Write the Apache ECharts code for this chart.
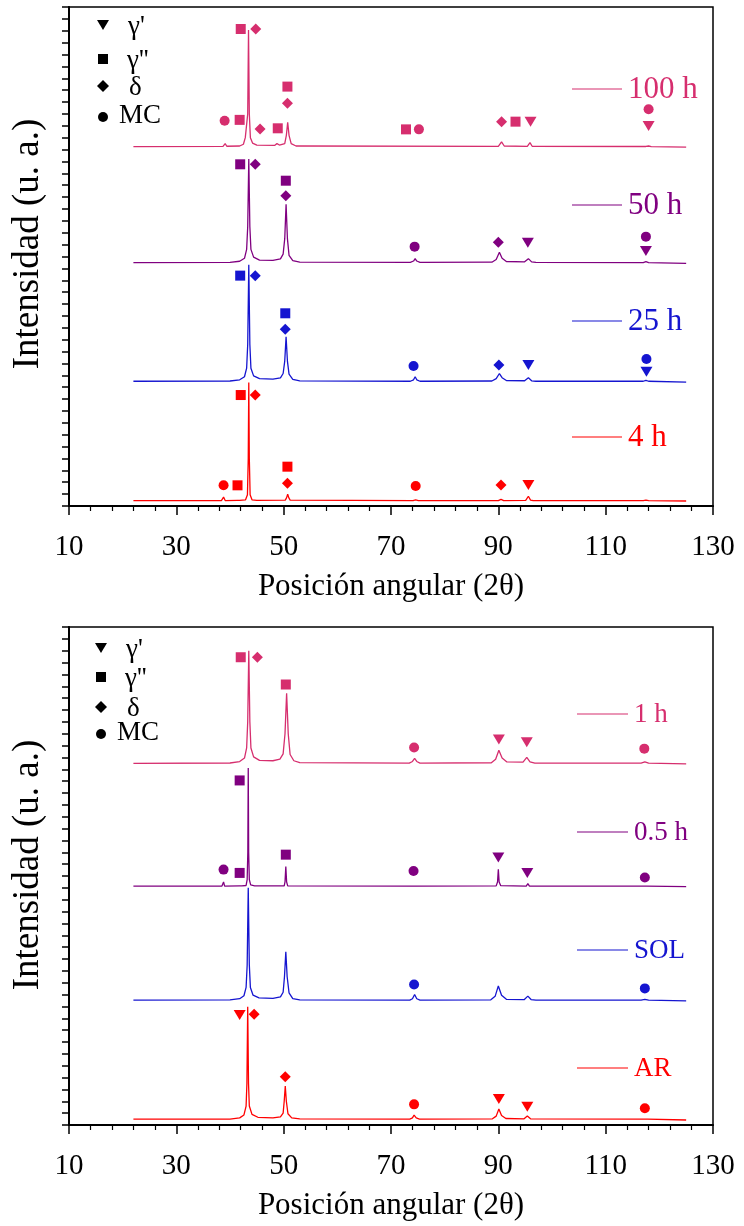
<!DOCTYPE html>
<html><head><meta charset="utf-8">
<script src="https://cdn.jsdelivr.net/npm/echarts@6/dist/echarts.min.js"></script>
<style>html,body{margin:0;padding:0;background:#fff}#c{width:744px;height:1226px}</style>
</head><body><div id="c"></div><script>
// ---------- DATA ----------
const xTickLabels = [10, 30, 50, 70, 90, 110, 130];
const topLabels = ['100 h', '50 h', '25 h', '4 h'];
const botLabels = ['1 h', '0.5 h', 'SOL', 'AR'];
const legendNames = ["γ'", "γ''", 'δ', 'MC'];
const colCrimson = '#d62e6e', colPurple = '#800080', colBlue = '#1515d0', colRed = '#ff0000';

// top panel traces [2θ, intensity (offset units)]
const t100 = [[22,30.25],[38.7,30.27],[39.1,30.5],[39.4,30.28],[41.8,30.3],[42.5,30.45],[42.85,31.0],[43.1,30.9],[43.3,33],[43.45,40.07],[43.6,33],[43.8,31.0],[44.2,30.55],[45,30.38],[48.3,30.35],[48.75,30.5],[49.2,30.38],[50.2,30.5],[50.5,31.2],[50.75,32.3],[51.0,31.2],[51.4,30.5],[52.3,30.3],[90.0,30.27],[90.6,30.65],[91.1,30.3],[95.4,30.27],[95.9,30.58],[96.3,30.28],[117.5,30.26],[118,30.3],[118.5,30.25],[125,30.2]];
const t50 = [[22,20.48],[40,20.5],[41.8,20.6],[42.7,20.85],[43.1,21.6],[43.3,23.5],[43.5,29.2],[43.7,23.5],[43.9,21.6],[44.4,20.95],[45.5,20.7],[48,20.68],[49.4,20.8],[49.9,21.2],[50.2,22.5],[50.45,25.4],[50.7,22.5],[51.0,21.1],[51.7,20.65],[53,20.52],[73.6,20.5],[74.2,20.62],[74.5,20.82],[74.8,20.62],[75.4,20.5],[88.8,20.52],[89.6,20.75],[90.2,21.35],[90.7,20.85],[91.5,20.58],[94.9,20.55],[95.6,20.82],[96.2,20.55],[97,20.5],[117,20.48],[117.5,20.56],[118,20.48],[125,20.42]];
const t25 = [[22,10.5],[40,10.52],[41.8,10.62],[42.7,10.88],[43.1,11.6],[43.3,13.6],[43.5,20.3],[43.7,13.6],[43.9,11.6],[44.4,10.95],[45.5,10.72],[48,10.68],[49.4,10.78],[49.9,11.15],[50.2,12.2],[50.45,14.25],[50.7,12.2],[51.0,11.1],[51.7,10.65],[53,10.53],[73.6,10.5],[74.2,10.62],[74.5,10.88],[74.8,10.62],[75.4,10.5],[88.8,10.52],[89.6,10.72],[90.2,11.15],[90.7,10.8],[91.5,10.56],[94.9,10.54],[95.6,10.8],[96.2,10.54],[97,10.5],[117,10.5],[117.5,10.58],[118,10.5],[125,10.42]];
const t4 = [[22,0.45],[38.4,0.46],[38.8,0.75],[39.1,0.46],[41.4,0.47],[41.6,0.6],[41.8,0.47],[42.9,0.52],[43.25,0.95],[43.4,4],[43.5,10.4],[43.6,4],[43.75,0.95],[44.1,0.52],[45,0.47],[50.3,0.5],[50.55,0.7],[50.75,1.0],[50.95,0.7],[51.2,0.5],[74.1,0.45],[74.6,0.52],[75.1,0.45],[90.0,0.45],[90.5,0.56],[91.0,0.45],[95.1,0.47],[95.6,0.82],[96.0,0.5],[96.5,0.45],[117,0.45],[117.5,0.5],[118,0.45],[125,0.42]];

// bottom panel traces
const b1 = [[22,30.5],[40,30.53],[41.8,30.65],[42.7,30.95],[43.1,31.8],[43.3,34],[43.5,40.0],[43.7,34],[43.9,31.8],[44.4,31.05],[45.5,30.75],[48,30.72],[49.3,30.85],[49.9,31.3],[50.25,33],[50.55,36.4],[50.85,33],[51.2,31.25],[51.9,30.72],[53,30.56],[73.4,30.52],[74.0,30.66],[74.4,30.92],[74.8,30.66],[75.4,30.52],[88.7,30.55],[89.5,30.85],[90.1,31.6],[90.7,30.95],[91.6,30.62],[94.6,30.6],[95.3,31.0],[95.9,30.62],[96.8,30.52],[116.6,30.52],[117.3,30.62],[118,30.52],[125,30.45]];
const b05 = [[22,20.14],[38.5,20.15],[38.8,20.5],[39.0,20.15],[41.8,20.16],[42.0,20.3],[42.2,20.16],[43.0,20.2],[43.2,20.7],[43.32,23],[43.4,30.1],[43.48,23],[43.6,20.7],[43.85,20.25],[44.6,20.17],[50.1,20.17],[50.25,20.5],[50.4,21.8],[50.55,20.5],[50.75,20.17],[74.0,20.15],[74.3,20.25],[74.6,20.15],[89.6,20.17],[89.85,20.5],[90.0,21.57],[90.15,20.5],[90.45,20.18],[95.2,20.15],[95.5,20.35],[95.8,20.15],[117,20.14],[117.3,20.16],[117.6,20.14],[125,20.1]];
const bSOL = [[22,10.53],[40,10.55],[41.8,10.65],[42.6,10.9],[43.0,11.6],[43.2,13.5],[43.4,20.0],[43.6,13.5],[43.8,11.6],[44.3,10.95],[45.4,10.72],[48,10.68],[49.4,10.8],[49.9,11.2],[50.15,12.5],[50.4,14.6],[50.65,12.5],[51.0,11.15],[51.7,10.66],[53,10.55],[73.5,10.53],[74.0,10.65],[74.4,11.0],[74.8,10.65],[75.4,10.53],[88.6,10.56],[89.4,10.85],[90.0,11.73],[90.6,10.95],[91.5,10.6],[94.8,10.57],[95.5,10.87],[96.1,10.58],[97,10.53],[116.6,10.53],[117.3,10.6],[118,10.53],[125,10.47]];
const bAR = [[22,0.5],[40,0.5],[41.8,0.6],[42.6,0.85],[43.0,1.6],[43.15,3.5],[43.3,9.97],[43.45,3.5],[43.6,1.6],[44.1,0.9],[45.2,0.65],[48,0.6],[49.4,0.68],[49.9,1.0],[50.1,2.0],[50.3,3.29],[50.5,2.0],[50.8,0.95],[51.5,0.6],[53,0.52],[73.5,0.5],[74.0,0.6],[74.3,0.84],[74.7,0.6],[75.3,0.5],[88.9,0.52],[89.6,0.75],[90.1,1.35],[90.6,0.8],[91.4,0.55],[94.8,0.52],[95.4,0.76],[96.0,0.52],[117.0,0.5],[117.3,0.56],[117.8,0.5],[125,0.42]];

// phase markers: gp = γ' (▼), gpp = γ'' (■), dl = δ (◆), mc = MC (●)
const m100_gp = [[96.0,32.35],[118,31.99]];
const m100_gpp = [[42.0,40.15],[50.7,35.3],[41.8,32.5],[48.9,31.79],[72.8,31.7],[93.2,32.35]];
const m100_dl = [[44.8,40.15],[50.7,33.9],[45.6,31.73],[90.6,32.35]];
const m100_mc = [[39.0,32.43],[75.2,31.7],[118,33.4]];
const m50_gp = [[95.5,22.16],[117.5,21.46]];
const m50_gpp = [[41.9,28.76],[50.4,27.38]];
const m50_dl = [[44.7,28.76],[50.4,26.12],[90.0,22.2]];
const m50_mc = [[74.4,21.83],[117.5,22.67]];
const m25_gp = [[95.6,11.87],[117.6,11.3]];
const m25_gpp = [[41.9,19.39],[50.3,16.22]];
const m25_dl = [[44.7,19.39],[50.3,14.87],[90.1,11.87]];
const m25_mc = [[74.2,11.78],[117.6,12.37]];
const m4_gp = [[95.6,1.77]];
const m4_gpp = [[42.0,9.34],[41.4,1.74],[50.7,3.31]];
const m4_dl = [[44.7,9.34],[50.7,1.91],[90.5,1.77]];
const m4_mc = [[38.8,1.74],[74.6,1.68]];

const m1_gp = [[90.1,32.52],[95.3,32.29]];
const m1_gpp = [[42.0,39.45],[50.4,37.15]];
const m1_dl = [[45.1,39.45]];
const m1_mc = [[74.3,31.84],[117.2,31.74]];
const m05_gp = [[90.0,22.55],[95.4,21.26]];
const m05_gpp = [[41.8,29.06],[41.8,21.26],[50.4,22.8]];
const m05_mc = [[38.8,21.54],[74.2,21.42],[117.3,20.87]];
const mSOL_mc = [[74.3,11.85],[117.3,11.52]];
const mAR_gp = [[41.8,9.27],[90.1,2.19],[95.4,1.54]];
const mAR_dl = [[44.5,9.33],[50.3,4.07]];
const mAR_mc = [[74.3,1.74],[117.3,1.41]];

// ---------- CHART ----------
const FONT = '"Liberation Serif", "Times New Roman", serif';
const chart = echarts.init(document.getElementById('c'), null, {renderer: 'canvas'});
const grids = [
  {left: 69, top: 7, width: 644, height: 499},
  {left: 69, top: 627, width: 644, height: 498}
];
function xAx(i) {
  return {
    gridIndex: i, type: 'value', min: 10, max: 130, interval: 20,
    axisLine: {show: true, lineStyle: {color: '#000', width: 2}},
    axisTick: {show: true, inside: false, length: 9, lineStyle: {color: '#000', width: 1.5}},
    minorTick: {show: true, splitNumber: 5, length: 5, lineStyle: {color: '#000', width: 1.2}},
    axisLabel: {show: true, fontFamily: FONT, fontSize: 29, color: '#000', margin: 27,
      formatter: v => (xTickLabels.indexOf(v) >= 0 ? String(v) : '')},
    splitLine: {show: false},
    name: 'Posición angular (2θ)', nameLocation: 'middle', nameGap: 65,
    nameTextStyle: {fontFamily: FONT, fontSize: 31, color: '#000'}
  };
}
function yAx(i) {
  return {
    gridIndex: i, type: 'value', min: 0, max: 42, interval: 1,
    axisLine: {show: true, lineStyle: {color: '#000', width: 2}},
    axisTick: {show: true, inside: false, length: 7, lineStyle: {color: '#000', width: 1.5}},
    axisLabel: {show: false}, splitLine: {show: false}
  };
}
function line(data, color, gi) {
  return {type: 'line', xAxisIndex: gi, yAxisIndex: gi, data: data, showSymbol: false, symbol: 'none',
    lineStyle: {color: color, width: 1.3}, itemStyle: {color: color}, z: 2, animation: false};
}
const SYM = {
  gp: {symbol: 'triangle', symbolSize: [12, 10], symbolRotate: 180},
  gpp: {symbol: 'rect', symbolSize: [10, 10], symbolRotate: 0},
  dl: {symbol: 'diamond', symbolSize: [11, 11], symbolRotate: 0},
  mc: {symbol: 'circle', symbolSize: 10, symbolRotate: 0}
};
function marks(data, kind, color, gi) {
  return Object.assign({type: 'scatter', xAxisIndex: gi, yAxisIndex: gi, data: data,
    itemStyle: {color: color, opacity: 1}, z: 5, animation: false}, SYM[kind]);
}
const series = [
  line(t100, colCrimson, 0), line(t50, colPurple, 0), line(t25, colBlue, 0), line(t4, colRed, 0),
  marks(m100_gp, 'gp', colCrimson, 0), marks(m100_gpp, 'gpp', colCrimson, 0), marks(m100_dl, 'dl', colCrimson, 0), marks(m100_mc, 'mc', colCrimson, 0),
  marks(m50_gp, 'gp', colPurple, 0), marks(m50_gpp, 'gpp', colPurple, 0), marks(m50_dl, 'dl', colPurple, 0), marks(m50_mc, 'mc', colPurple, 0),
  marks(m25_gp, 'gp', colBlue, 0), marks(m25_gpp, 'gpp', colBlue, 0), marks(m25_dl, 'dl', colBlue, 0), marks(m25_mc, 'mc', colBlue, 0),
  marks(m4_gp, 'gp', colRed, 0), marks(m4_gpp, 'gpp', colRed, 0), marks(m4_dl, 'dl', colRed, 0), marks(m4_mc, 'mc', colRed, 0),
  line(b1, colCrimson, 1), line(b05, colPurple, 1), line(bSOL, colBlue, 1), line(bAR, colRed, 1),
  marks(m1_gp, 'gp', colCrimson, 1), marks(m1_gpp, 'gpp', colCrimson, 1), marks(m1_dl, 'dl', colCrimson, 1), marks(m1_mc, 'mc', colCrimson, 1),
  marks(m05_gp, 'gp', colPurple, 1), marks(m05_gpp, 'gpp', colPurple, 1), marks(m05_mc, 'mc', colPurple, 1),
  marks(mSOL_mc, 'mc', colBlue, 1),
  marks(mAR_gp, 'gp', colRed, 1), marks(mAR_dl, 'dl', colRed, 1), marks(mAR_mc, 'mc', colRed, 1)
];

// trace labels, axis titles and phase legends (annotations)
const graphic = [];
const topCols = [colCrimson, colPurple, colBlue, colRed];
const topLabelY = [89, 205, 321, 437];
const botLabelY = [714, 832, 950, 1068];
topLabels.forEach((t, i) => {
  graphic.push({type: 'line', shape: {x1: 572, y1: topLabelY[i], x2: 622, y2: topLabelY[i]}, style: {stroke: topCols[i], lineWidth: 1.2}});
  graphic.push({type: 'text', x: 628, y: topLabelY[i] + 1, style: {text: t, font: '31px ' + FONT, fill: topCols[i], textAlign: 'left', textVerticalAlign: 'middle'}});
});
botLabels.forEach((t, i) => {
  graphic.push({type: 'line', shape: {x1: 577, y1: botLabelY[i], x2: 628, y2: botLabelY[i]}, style: {stroke: topCols[i], lineWidth: 1.2}});
  graphic.push({type: 'text', x: 634, y: botLabelY[i] + 1, style: {text: t, font: '27px ' + FONT, fill: topCols[i], textAlign: 'left', textVerticalAlign: 'middle'}});
});
[244, 865].forEach(cy => {
  graphic.push({type: 'text', x: 28, y: cy, rotation: Math.PI / 2,
    style: {text: 'Intensidad (u. a.)', font: '37px ' + FONT, fill: '#000', textAlign: 'center', textVerticalAlign: 'middle'}});
});
function phaseLegend(x0, ys) {
  const [y1, y2, y3, y4] = ys;
  graphic.push({type: 'polygon', shape: {points: [[x0 - 6, y1 - 5], [x0 + 6, y1 - 5], [x0, y1 + 5]]}, style: {fill: '#000'}});
  graphic.push({type: 'rect', shape: {x: x0 - 5, y: y2 - 5, width: 10, height: 10}, style: {fill: '#000'}});
  graphic.push({type: 'polygon', shape: {points: [[x0, y3 - 6], [x0 + 6, y3], [x0, y3 + 6], [x0 - 6, y3]]}, style: {fill: '#000'}});
  graphic.push({type: 'circle', shape: {cx: x0, cy: y4, r: 5}, style: {fill: '#000'}});
  const tx = [x0 + 25, x0 + 24, x0 + 26, x0 + 16];
  ys.forEach((y, i) => {
    graphic.push({type: 'text', x: tx[i], y: y + (i === 3 ? -1 : 2), style: {text: legendNames[i], font: '27px ' + FONT, fill: '#000', textAlign: 'left', textVerticalAlign: 'middle'}});
  });
}
phaseLegend(103, [25, 59, 86, 117]);
phaseLegend(101, [648, 677, 707, 734]);

chart.setOption({
  animation: false,
  backgroundColor: '#fff',
  grid: grids.map(g => Object.assign({show: true, borderColor: '#000', borderWidth: 1.5, backgroundColor: 'transparent'}, g)),
  xAxis: [xAx(0), xAx(1)],
  yAxis: [yAx(0), yAx(1)],
  series: series,
  graphic: graphic
});
</script></body></html>
